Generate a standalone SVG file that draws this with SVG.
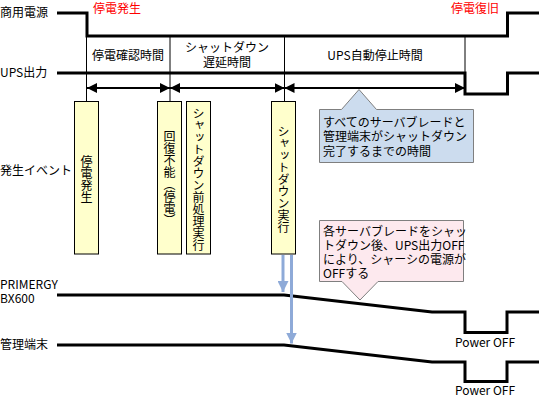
<svg xmlns="http://www.w3.org/2000/svg" width="539" height="401" viewBox="0 0 539 401">
<style>
text{font-family:"Noto Sans CJK JP","Liberation Sans",sans-serif;font-size:12px;fill:#000}
.red{fill:#ff0000}
.thick{fill:none;stroke:#000;stroke-width:3}
.thin{fill:none;stroke:#000;stroke-width:1}
.box{fill:#ffffcc;stroke:#000;stroke-width:1}
.vt{writing-mode:vertical-rl;text-orientation:upright;font-size:12px}
.blue{fill:none;stroke:#8eaad8;stroke-width:3}
.c{text-anchor:middle}
</style>
<defs>
<marker id="ah" viewBox="0 0 10 10" refX="10" refY="5" markerWidth="10" markerHeight="10" markerUnits="userSpaceOnUse" orient="auto-start-reverse">
<path d="M0,0L10,5L0,10z" fill="#000"/>
</marker>
<marker id="bh" viewBox="0 0 10 10" refX="10" refY="5" markerWidth="11" markerHeight="11" markerUnits="userSpaceOnUse" orient="auto">
<path d="M0,0L10,5L0,10z" fill="#8eaad8"/>
</marker>
</defs>
<g id="labels">
<text x="0" y="17">商用電源</text>
<text x="0" y="77">UPS出力</text>
<text x="0" y="175">発生イベント</text>
<text x="0" y="289">PRIMERGY<tspan x="0" dy="14">BX600</tspan></text>
<text x="0" y="349">管理端末</text>
<text class="red" x="93" y="13">停電発生</text>
<text class="red" x="451" y="13">停電復旧</text>
<text class="c" x="128" y="60">停電確認時間</text>
<text class="c" x="227" y="52">シャットダウン<tspan x="227" dy="15">遅延時間</tspan></text>
<text class="c" x="375" y="60">UPS自動停止時間</text>
<text class="c" x="485" y="347">Power OFF</text>
<text class="c" x="485" y="395">Power OFF</text>
</g>
<g id="connectors">
<polyline class="thick" points="57,13 87,13 87,36 507.5,36 507.5,13 539,13"/>
<polyline class="thick" points="57,73 465,73 465,94 507.5,94 507.5,73 539,73"/>
<line class="thin" x1="86.5" y1="36" x2="86.5" y2="102"/>
<line class="thin" x1="170" y1="36" x2="170" y2="102"/>
<line class="thin" x1="284.5" y1="36" x2="284.5" y2="102"/>
<line class="thin" x1="465" y1="36" x2="465" y2="73"/>
<line x1="87" y1="88" x2="170" y2="88" stroke="#000" stroke-width="2" marker-start="url(#ah)" marker-end="url(#ah)"/>
<line x1="170" y1="88" x2="284.5" y2="88" stroke="#000" stroke-width="2" marker-start="url(#ah)" marker-end="url(#ah)"/>
<line x1="284.5" y1="88" x2="465" y2="88" stroke="#000" stroke-width="2" marker-start="url(#ah)" marker-end="url(#ah)"/>
<polyline class="thick" points="57,295 284,295 432,312 465,312 465,332.5 507,332.5 507,312 539,312"/>
<polyline class="thick" points="57,345 284,345 432,362 465,362 465,381.5 507,381.5 507,362 539,362"/>
<line class="blue" x1="283" y1="255" x2="283" y2="292" marker-end="url(#bh)"/>
<line class="blue" x1="291.5" y1="255" x2="291.5" y2="343.5" marker-end="url(#bh)"/>
</g>
<g id="box1"><rect class="box" x="74.5" y="101.5" width="24" height="152.5"/><text class="vt" x="86.5" y="155">停電発生</text></g>
<g id="box2"><rect class="box" x="157.5" y="101.5" width="24" height="152.5"/><text class="vt" x="169.5" y="130">回復不能（停電）</text></g>
<g id="box3"><rect class="box" x="186.5" y="101.5" width="24" height="152.5"/><text class="vt" x="198.5" y="107">シャットダウン前処理実行</text></g>
<g id="box4"><rect class="box" x="271.5" y="101.5" width="24" height="152.5"/><text class="vt" x="283.5" y="125">シャットダウン実行</text></g>
<g id="callout1">
<path d="M319.5,109.5H341.5L359,89.5L376.5,109.5H473.5V162.5H319.5Z" fill="#ccdcee" stroke="#7f7f7f" stroke-width="1"/>
<text x="323" y="127">すべてのサーバブレードと<tspan x="323" dy="14">管理端末がシャットダウン</tspan><tspan x="323" dy="15">完了するまでの時間</tspan></text>
</g>
<g id="callout2">
<path d="M319.5,220.5H463.5V281.5H378L360,300L342,281.5H319.5Z" fill="#fde9ee" stroke="#7f7f7f" stroke-width="1"/>
<text x="323" y="236">各サーバブレードをシャッ<tspan x="323" dy="14">トダウン後、UPS出力OFF</tspan><tspan x="323" dy="14">により、シャーシの電源が</tspan><tspan x="323" dy="14">OFFする</tspan></text>
</g>
</svg>
